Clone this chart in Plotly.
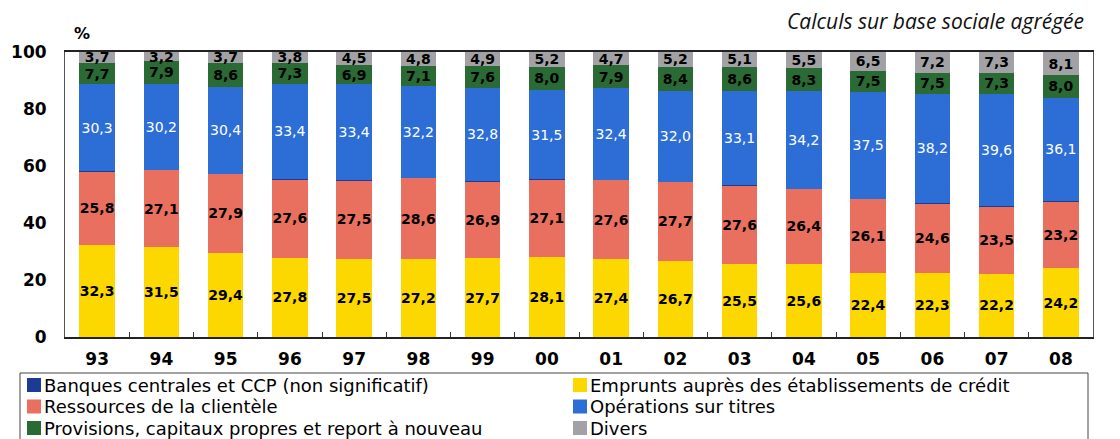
import plotly.graph_objects as go

years = ["93", "94", "95", "96", "97", "98", "99", "00",
         "01", "02", "03", "04", "05", "06", "07", "08"]

emprunts = [32.3, 31.5, 29.4, 27.8, 27.5, 27.2, 27.7, 28.1,
            27.4, 26.7, 25.5, 25.6, 22.4, 22.3, 22.2, 24.2]
ressources = [25.8, 27.1, 27.9, 27.6, 27.5, 28.6, 26.9, 27.1,
              27.6, 27.7, 27.6, 26.4, 26.1, 24.6, 23.5, 23.2]
banques_centrales = [0.2, 0.1, 0.0, 0.1, 0.2, 0.1, 0.1, 0.1,
                     0.0, 0.0, 0.1, 0.0, 0.0, 0.2, 0.1, 0.4]
operations_titres = [30.3, 30.2, 30.4, 33.4, 33.4, 32.2, 32.8, 31.5,
                     32.4, 32.0, 33.1, 34.2, 37.5, 38.2, 39.6, 36.1]
provisions = [7.7, 7.9, 8.6, 7.3, 6.9, 7.1, 7.6, 8.0,
              7.9, 8.4, 8.6, 8.3, 7.5, 7.5, 7.3, 8.0]
divers = [3.7, 3.2, 3.7, 3.8, 4.5, 4.8, 4.9, 5.2,
          4.7, 5.2, 5.1, 5.5, 6.5, 7.2, 7.3, 8.1]

FONT = "DejaVu Sans"
# The page body has an 8px margin: the figure starts at (8, 8) in the window.
OFF = 8
W, H = 1120 - OFF, 439 - OFF
# plot area in window pixels
PX_L, PX_R, PX_T, PX_B = 65, 1093, 52, 337
ML, MT = PX_L - OFF, PX_T - OFF
MR, MB = (OFF + W) - PX_R, (OFF + H) - PX_B
PW, PH = PX_R - PX_L, PX_B - PX_T


def px2x(px):
    return (px - PX_L) / PW


def px2y(py):
    return (PX_B - py) / PH


def lbl(vals):
    return [f"{v:.1f}".replace(".", ",") for v in vals]


NAME_BC = "Banques centrales et CCP (non significatif)"
NAME_EMP = "Emprunts auprès des établissements de crédit"
NAME_RES = "Ressources de la clientèle"
NAME_OPE = "Opérations sur titres"
NAME_PRO = "Provisions, capitaux propres et report à nouveau"
NAME_DIV = "Divers"

colors = {
    NAME_EMP: "#FDD700",
    NAME_RES: "#E9705F",
    NAME_BC: "#1E3A96",
    NAME_OPE: "#2D6ED6",
    NAME_PRO: "#2A6A34",
    NAME_DIV: "#A2A2A6",
}

series = [
    # name, values, text color, show text, bold
    (NAME_EMP, emprunts, "black", True, True),
    (NAME_RES, ressources, "black", True, True),
    (NAME_BC, banques_centrales, "black", False, True),
    (NAME_OPE, operations_titres, "white", True, False),
    (NAME_PRO, provisions, "black", True, True),
    (NAME_DIV, divers, "black", True, True),
]

fig = go.Figure()
for name, vals, tcol, show, bold in series:
    fig.add_trace(go.Bar(
        x=years, y=vals, name=name,
        marker=dict(color=colors[name], line=dict(width=0)),
        text=lbl(vals) if show else None,
        textposition="inside" if show else "none",
        insidetextanchor="middle",
        textangle=0,
        textfont=dict(family=FONT, size=14, color=tcol,
                      weight="bold" if bold else "normal"),
        hoverinfo="skip",
        showlegend=False,
    ))

# Manual legend (two columns, three rows) below the chart
legend_rows = [
    (NAME_BC, NAME_EMP),
    (NAME_RES, NAME_OPE),
    (NAME_PRO, NAME_DIV),
]
col_x = [27, 573]
row_y = [385, 406.5, 428]
shapes = [
    dict(type="rect", xref="paper", yref="paper",
         x0=px2x(20), x1=px2x(1088), y0=px2y(373), y1=px2y(460),
         line=dict(color="#444", width=1), fillcolor="white", layer="below"),
]
annotations = []
for r, pair in enumerate(legend_rows):
    for c, name in enumerate(pair):
        x0 = col_x[c]
        yc = row_y[r]
        shapes.append(dict(type="rect", xref="paper", yref="paper",
                           x0=px2x(x0), x1=px2x(x0 + 14),
                           y0=px2y(yc + 7), y1=px2y(yc - 7),
                           line=dict(width=0), fillcolor=colors[name]))
        annotations.append(dict(text=name, xref="paper", yref="paper",
                                x=px2x(x0 + 15), y=px2y(yc),
                                xanchor="left", yanchor="middle",
                                showarrow=False,
                                font=dict(family=FONT, size=18, color="black")))

annotations.append(dict(text="Calculs sur base sociale agrégée",
                        xref="paper", yref="paper", x=px2x(785), y=px2y(21),
                        xanchor="left", yanchor="middle", showarrow=False,
                        font=dict(family="Open Sans", size=21, color="#111",
                                  style="italic")))
annotations.append(dict(text="%", xref="paper", yref="paper",
                        x=px2x(72), y=px2y(33),
                        xanchor="left", yanchor="middle", showarrow=False,
                        font=dict(family=FONT, size=16, color="black",
                                  weight="bold")))

fig.update_layout(
    barmode="stack",
    bargap=0.45,
    width=W, height=H,
    paper_bgcolor="white", plot_bgcolor="white",
    margin=dict(l=ML, r=MR, t=MT, b=MB, autoexpand=False),
    uniformtext=dict(minsize=14, mode="show"),
    showlegend=False,
    shapes=shapes,
    annotations=annotations,
    xaxis=dict(
        type="category",
        range=[-0.5, 15.5],
        showline=True, linecolor="#222", linewidth=1.5, mirror=True,
        ticks="inside", tickson="boundaries", ticklen=5, tickcolor="#333",
        ticklabelstandoff=6,
        tickfont=dict(family=FONT, size=17, color="black", weight="bold"),
        showgrid=False,
    ),
    yaxis=dict(
        range=[0, 100],
        tickvals=[0, 20, 40, 60, 80, 100],
        showline=True, linecolor="#555", linewidth=1, mirror=True,
        ticks="", showgrid=False, zeroline=False,
        ticklabelstandoff=14,
        tickfont=dict(family=FONT, size=17, color="black", weight="bold"),
    ),
)

fig.write_html("out.html")
